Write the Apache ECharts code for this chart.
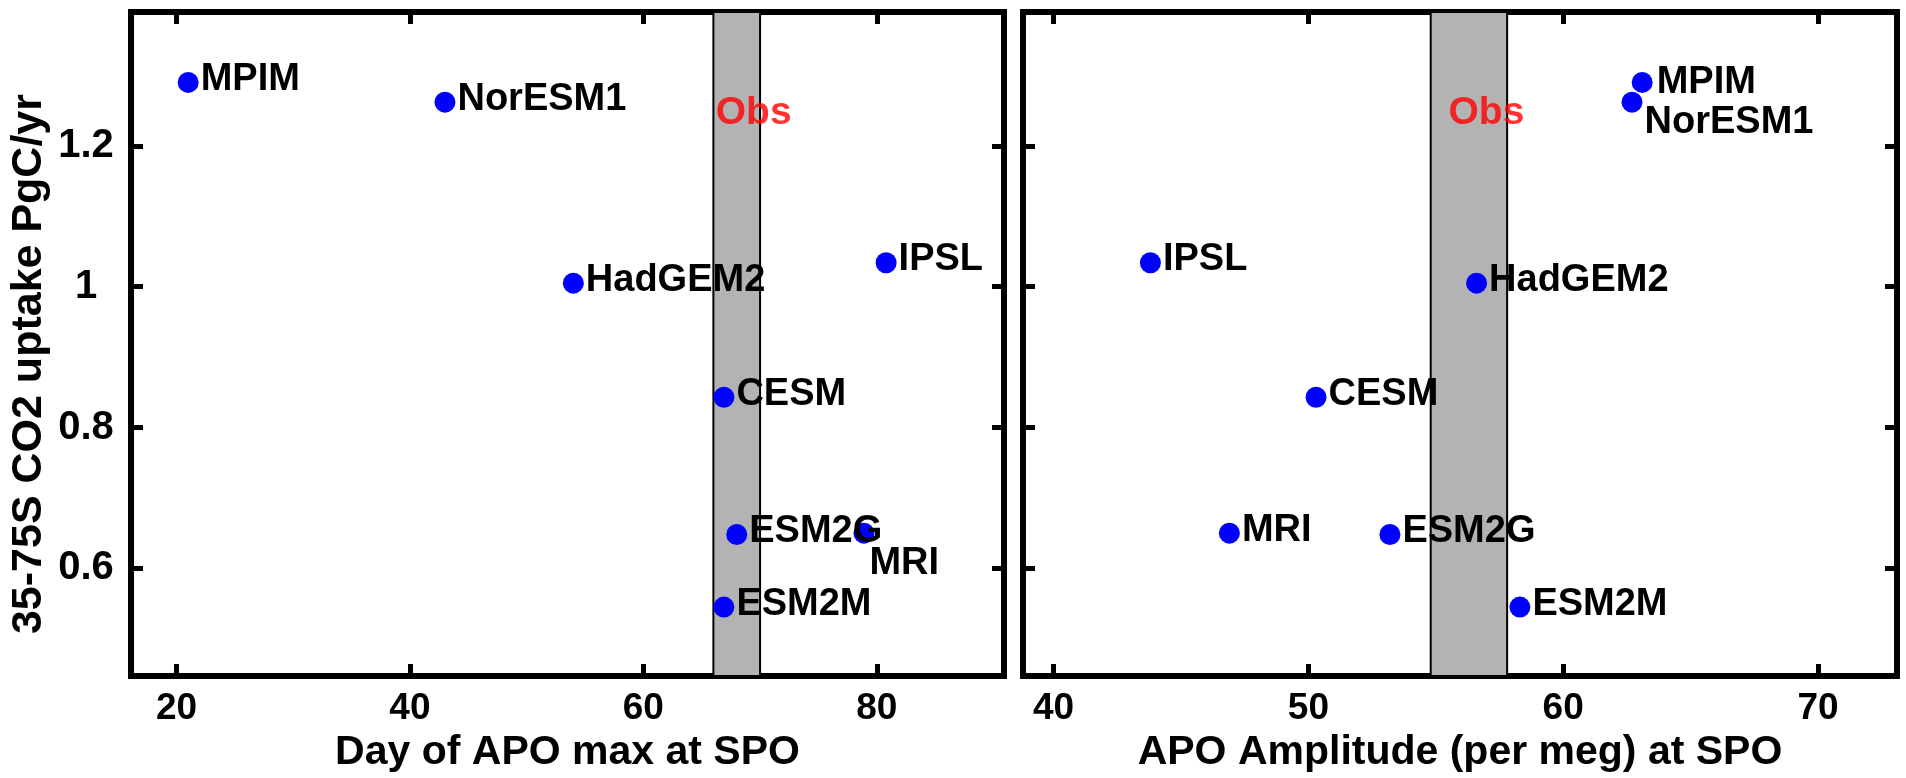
<!DOCTYPE html>
<html>
<head>
<meta charset="utf-8">
<script src="https://cdn.jsdelivr.net/npm/echarts@6/dist/echarts.min.js"></script>
<style>
  html, body { margin: 0; padding: 0; background: #fff; }
  #chart { width: 1906px; height: 778px; }
</style>
</head>
<body>
<div id="chart"></div>
<script>
// models and their values
var models       = ['MPIM', 'NorESM1', 'HadGEM2', 'IPSL', 'CESM', 'ESM2G', 'MRI', 'ESM2M'];
var uptake       = [1.290, 1.262, 1.005, 1.034, 0.843, 0.648, 0.650, 0.545];
var apoMaxDay    = [21.0, 43.0, 54.0, 80.8, 66.9, 68.0, 78.9, 66.9];
var apoAmplitude = [63.1, 62.7, 56.6, 43.8, 50.3, 53.2, 46.9, 58.3];

// observed range (grey band)
var obsDay = [66, 70];
var obsAmp = [54.8, 57.8];
var obsText = { day: 66.2, amp: 55.5, uptake: 1.246 };

// axis extents and ticks
var dayRange = [16.1, 90.9];
var ampRange = [38.8, 73.1];
var uptakeRange = [0.447, 1.39];
var dayTicks = [20, 40, 60, 80];
var ampTicks = [40, 50, 60, 70];
var uptakeTicks = [0.6, 0.8, 1, 1.2];

var FONT = "'Liberation Sans', Arial, Helvetica, sans-serif";

function xPair(grid, range, ticks, name) {
  var base = {
    gridIndex: grid, type: 'value', min: range[0], max: range[1],
    splitLine: { show: false }, axisLine: { show: false },
    axisTick: { inside: true, length: 12, customValues: ticks, lineStyle: { color: '#000', width: 5 } }
  };
  var bottom = Object.assign({}, base, {
    position: 'bottom', name: name, nameLocation: 'middle', nameGap: 44,
    nameTextStyle: { color: '#000', fontSize: 41, fontWeight: 'bold', fontFamily: FONT },
    axisLabel: { customValues: ticks, margin: 14, color: '#000', fontSize: 37, fontWeight: 'bold', fontFamily: FONT }
  });
  var top = Object.assign({}, base, { position: 'top', axisLabel: { show: false } });
  return [bottom, top];
}

function yPair(grid, labelled) {
  var base = {
    gridIndex: grid, type: 'value', min: uptakeRange[0], max: uptakeRange[1],
    splitLine: { show: false }, axisLine: { show: false },
    axisTick: { inside: true, length: 12, customValues: uptakeTicks, lineStyle: { color: '#000', width: 5 } }
  };
  var left = Object.assign({}, base, { position: 'left', axisLabel: { show: false } });
  if (labelled) {
    left.axisLabel = {
      customValues: uptakeTicks, margin: 45, align: 'center',
      color: '#000', fontSize: 40, fontWeight: 'bold', fontFamily: FONT
    };
    left.name = '35-75S CO2 uptake PgC/yr';
    left.nameLocation = 'middle';
    left.nameGap = 80;
    left.nameTextStyle = { color: '#000', fontSize: 43, fontWeight: 'bold', fontFamily: FONT, padding: [0, 40, 0, 0] };
  }
  var right = Object.assign({}, base, { position: 'right', axisLabel: { show: false } });
  return [left, right];
}

function modelSeries(xIdx, yIdx, xs, shifts, band) {
  return {
    type: 'scatter', xAxisIndex: xIdx, yAxisIndex: yIdx,
    symbolSize: 21, itemStyle: { color: '#0000ff', opacity: 1 },
    data: models.map(function (m, i) {
      return {
        value: [xs[i], uptake[i], m],
        label: { offset: shifts[m] || [0, -3] }
      };
    }),
    label: {
      show: true, position: 'right', distance: 2,
      formatter: function (p) { return p.value[2]; },
      color: '#000', fontSize: 38, fontWeight: 'bold', fontFamily: FONT
    },
    markArea: {
      silent: true,
      itemStyle: { color: '#b3b3b3', borderColor: '#000', borderWidth: 2 },
      data: [[{ xAxis: band[0] }, { xAxis: band[1] }]]
    },
    z: 3
  };
}

function obsSeries(xIdx, yIdx, x) {
  return {
    type: 'scatter', xAxisIndex: xIdx, yAxisIndex: yIdx, symbolSize: 0,
    data: [[x, obsText.uptake]],
    label: {
      show: true, position: 'right', distance: 0, formatter: 'Obs',
      color: '#ff0000', fontSize: 39, fontWeight: 'bold', fontFamily: FONT
    },
    z: 4
  };
}

var chart = echarts.init(document.getElementById('chart'), null, { renderer: 'canvas' });

var gridStyle = { show: true, borderColor: '#000', borderWidth: 6, backgroundColor: 'transparent', containLabel: false };

chart.setOption({
  animation: false,
  backgroundColor: '#fff',
  grid: [
    Object.assign({ left: 131, top: 12, width: 873, height: 670 }, gridStyle),
    Object.assign({ left: 1023, top: 12, width: 874, height: 670 }, gridStyle)
  ],
  xAxis: xPair(0, dayRange, dayTicks, 'Day of APO max at SPO')
    .concat(xPair(1, ampRange, ampTicks, 'APO Amplitude (per meg) at SPO')),
  yAxis: yPair(0, true).concat(yPair(1, false)),
  series: [
    modelSeries(0, 0, apoMaxDay, { MRI: [-7, 30] }, obsDay),
    modelSeries(2, 2, apoAmplitude, { NorESM1: [0, 20], MPIM: [2, 0] }, obsAmp),
    obsSeries(0, 0, obsText.day),
    obsSeries(2, 2, obsText.amp)
  ]
});
</script>
</body>
</html>
